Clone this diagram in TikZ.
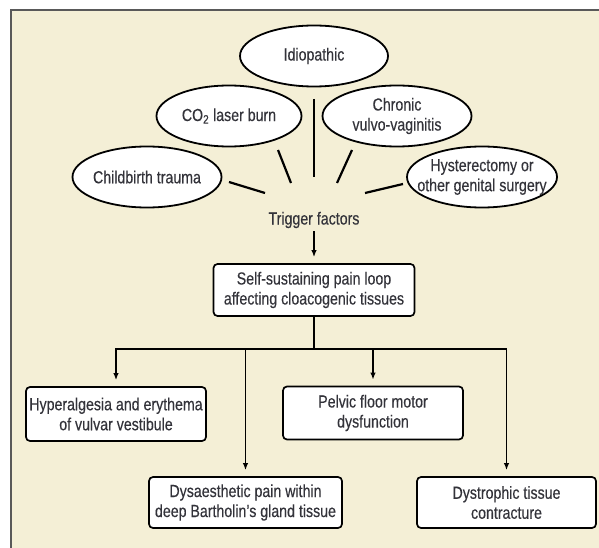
\documentclass[tikz,border=0pt]{standalone}
\usepackage{fontspec}
\setmainfont{Liberation Sans}[FakeStretch=0.81, FakeBold=0.3]
\usetikzlibrary{shapes.geometric,arrows.meta}
\definecolor{cream}{HTML}{F4EFD6}
\definecolor{ink}{HTML}{33333A}
\begin{document}
\begin{tikzpicture}[x=1pt, y=-1pt, font=\fontsize{17.5}{20}\selectfont, text=ink,
    cause/.style={draw, ellipse, fill=white, line width=1.8pt, align=center, inner xsep=-12pt, inner ysep=0pt, minimum width=#1, minimum height=61pt},
    effect/.style={draw, rounded corners=4pt, fill=white, line width=1.7pt, align=center, inner xsep=2pt, minimum width=#1, minimum height=52pt},
    link/.style={line width=2.2pt},
    arr/.style={line width=1.9pt, -{Latex[length=7pt,width=5.5pt]}, shorten >=6pt}]
    \useasboundingbox (0,0) rectangle (599,548);
    \fill[white] (0,0) rectangle (599,548);
    \fill[cream] (11,10) rectangle (599,548);
    \draw[black!65, line width=2pt] (11,548) -- (11,10) -- (599,10);
    \node[cause=148pt] (idio) at (314,56) {Idiopathic};
    \node[cause=145pt] (co2) at (229,116) {CO\textsubscript{2} laser burn};
    \node[cause=149pt] (chronic) at (397,116) {Chronic\\vulvo-vaginitis};
    \node[cause=149pt] (birth) at (147,177) {Childbirth trauma};
    \node[cause=150pt] (hyster) at (482,177) {Hysterectomy or\\other genital surgery};
    \node[inner sep=3pt] (trig) at (314,220) {Trigger factors};
    \coordinate (i1) at (314,99);  \coordinate (i2) at (314,177);
    \coordinate (c1) at (278,150); \coordinate (c2) at (291,183);
    \coordinate (v1) at (352,150); \coordinate (v2) at (337,183);
    \coordinate (b1) at (229,182); \coordinate (b2) at (265,193);
    \coordinate (h1) at (403,184); \coordinate (h2) at (365,193);
    \draw[link] (i1) -- (i2);
    \draw[link] (c1) -- (c2);
    \draw[link] (v1) -- (v2);
    \draw[link] (b1) -- (b2);
    \draw[link] (h1) -- (h2);
    \node[effect=201pt] (loop) at (314,290) {Self-sustaining pain loop\\affecting cloacogenic tissues};
    \draw[arr] (trig) -- (loop);
    \node[effect=180pt, minimum height=54pt] (hyper) at (116,414) {Hyperalgesia and erythema\\of vulvar vestibule};
    \node[effect=180pt, minimum height=53pt] (pelvic) at (373,413) {Pelvic floor motor\\dysfunction};
    \node[effect=193pt, minimum height=51pt] (dysa) at (245.5,502.5) {Dysaesthetic pain within\\deep Bartholin's gland tissue};
    \node[effect=179pt, minimum height=51pt] (dystro) at (506.5,502.5) {Dystrophic tissue\\contracture};
    \coordinate (fork) at (314,349);
    \draw[line width=1.9pt] (loop) -- (fork);
    \draw[arr] (fork) -| (hyper);
    \draw[arr] (fork) -| (dysa);
    \draw[arr] (fork) -| (pelvic);
    \draw[arr] (fork) -| (dystro);
\end{tikzpicture}
\end{document}
